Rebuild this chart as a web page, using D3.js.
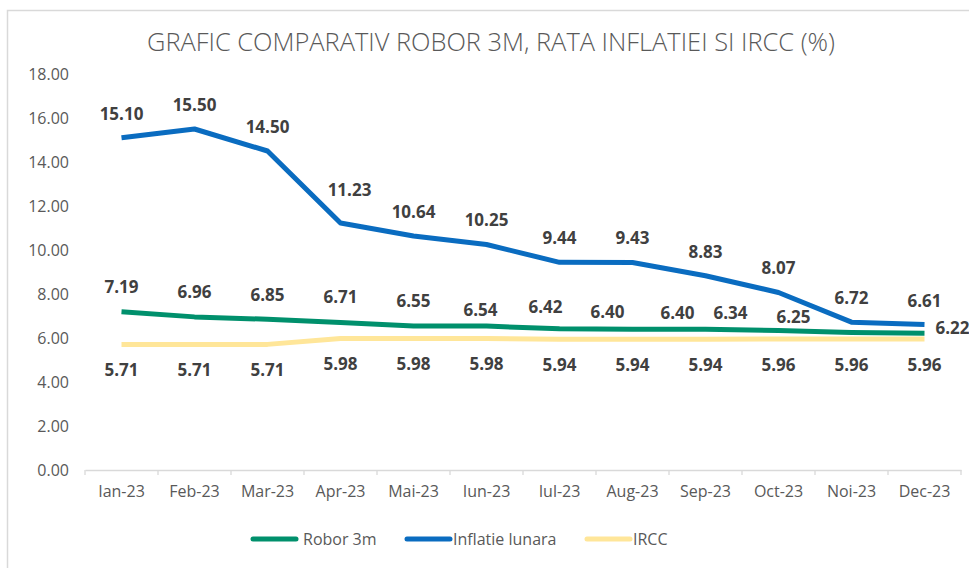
<!DOCTYPE html>
<html>
<head>
<meta charset="utf-8">
<script src="https://cdn.jsdelivr.net/npm/d3@7"></script>
<style>
    body { margin: 0; background: #fff; }
    svg { display: block; }
</style>
</head>
<body>
<div id="chart"></div>
<script>
const months = ["Ian-23", "Feb-23", "Mar-23", "Apr-23", "Mai-23", "Iun-23",
    "Iul-23", "Aug-23", "Sep-23", "Oct-23", "Noi-23", "Dec-23"];
const robor = [7.19, 6.96, 6.85, 6.71, 6.55, 6.54, 6.42, 6.40, 6.40, 6.34, 6.25, 6.22];
const inflatie = [15.10, 15.50, 14.50, 11.23, 10.64, 10.25, 9.44, 9.43, 8.83, 8.07, 6.72, 6.61];
const ircc = [5.71, 5.71, 5.71, 5.98, 5.98, 5.98, 5.94, 5.94, 5.94, 5.96, 5.96, 5.96];
const yTicks = [0, 2, 4, 6, 8, 10, 12, 14, 16, 18];

var DVizModule = (() => {

    const svgSize = { width: 969, height: 568 };
    const margin = { top: 74, right: 8, bottom: 98, left: 85 };

    // excel labels were nudged by hand on a few points, keep that here
    const roborNudge = [[0, -25], [0, -25], [0, -24], [0, -25], [0, -25], [-6, -16],
        [-14, -22], [-25, -17], [-28, -16], [-48, -17], [-58, -15], [0, 0]];
    const inflNudge = months.map((m, i) => i === 3 ? [9, -33] : [0, -24]);

    const series = [
        { name: "Robor 3m", values: robor, color: "#00906c" },
        { name: "Inflatie lunara", values: inflatie, color: "#0a6cc0" },
        { name: "IRCC", values: ircc, color: "#ffe699" }
    ];

    const chart = d3.select("#chart")
        .append("svg")
        .attr("width", svgSize.width)
        .attr("height", svgSize.height)
        .style("font-family", "'Open Sans', sans-serif");

    chart.append("rect")
        .attr("x", 7.5)
        .attr("y", 10.5)
        .attr("width", 980)
        .attr("height", 600)
        .attr("fill", "none")
        .attr("stroke", "#d9d9d9")
        .attr("stroke-width", 1.5);

    const xScale = d3.scaleBand()
        .domain(months)
        .range([margin.left, svgSize.width - margin.right])
        .padding(0);

    const yScale = d3.scaleLinear()
        .domain([0, 18])
        .range([svgSize.height - margin.bottom, margin.top]);

    const cx = m => xScale(m) + xScale.bandwidth() / 2;

    chart.append("text")
        .attr("x", 491)
        .attr("y", 42)
        .attr("dy", "0.35em")
        .attr("text-anchor", "middle")
        .attr("fill", "#595959")
        .attr("font-size", "25px")
        .attr("font-weight", 300)
        .attr("textLength", 688)
        .attr("lengthAdjust", "spacingAndGlyphs")
        .text("GRAFIC COMPARATIV ROBOR 3M, RATA INFLATIEI SI IRCC (%)");

    // y axis, labels only
    chart.append("g")
        .attr("transform", `translate(${margin.left}, 0)`)
        .call(d3.axisLeft(yScale).tickValues(yTicks).tickFormat(d3.format(".2f")).tickSize(0).tickPadding(16))
        .call(g => g.select(".domain").remove())
        .call(g => g.selectAll("text")
            .attr("fill", "#595959")
            .attr("font-size", "16px")
            .attr("font-family", "'Open Sans', sans-serif"));

    // x axis: line with ticks on band edges
    const xAxisG = chart.append("g")
        .attr("transform", `translate(0, ${yScale(0)})`);

    xAxisG.call(d3.axisBottom(xScale).tickSize(0).tickPadding(16))
        .call(g => g.select(".domain").attr("stroke", "#d9d9d9").attr("stroke-width", 1.3))
        .call(g => g.selectAll("text")
            .attr("fill", "#595959")
            .attr("font-size", "16px")
            .attr("font-family", "'Open Sans', sans-serif"));

    xAxisG.append("g")
        .selectAll("line")
        .data(months.concat(["end"]))
        .join("line")
        .attr("x1", d => d === "end" ? xScale.range()[1] : xScale(d))
        .attr("x2", d => d === "end" ? xScale.range()[1] : xScale(d))
        .attr("y1", 0)
        .attr("y2", 5)
        .attr("stroke", "#d9d9d9")
        .attr("stroke-width", 1.3);

    const line = d3.line()
        .x((d, i) => cx(months[i]))
        .y(d => yScale(d));

    // draw ircc first, then robor, then inflation on top
    [series[2], series[0], series[1]].forEach(s => {
        chart.append("path")
            .datum(s.values)
            .attr("fill", "none")
            .attr("stroke", s.color)
            .attr("stroke-width", 5)
            .attr("stroke-linejoin", "round")
            .attr("d", line);
    });

    const fmt = d3.format(".2f");

    function labels(values, nudge, anchor) {
        chart.append("g")
            .attr("fill", "#404040")
            .attr("font-size", "17px")
            .attr("font-weight", "bold")
            .selectAll("text")
            .data(values)
            .join("text")
            .attr("x", (d, i) => cx(months[i]) + nudge(i)[0])
            .attr("y", (d, i) => yScale(d) + nudge(i)[1])
            .attr("dy", "0.35em")
            .attr("text-anchor", anchor)
            .text(d => fmt(d));
    }

    labels(inflatie, i => inflNudge[i], "middle");
    labels(ircc, i => [0, 26], "middle");
    chart.append("g").call(() => {
        // robor: last label sits to the right of the point
        const last = robor.length - 1;
        labels(robor.slice(0, last), i => roborNudge[i], "middle");
        chart.append("text")
            .attr("x", cx(months[last]) + 11)
            .attr("y", yScale(robor[last]) - 5)
            .attr("dy", "0.35em")
            .attr("fill", "#404040")
            .attr("font-size", "17px")
            .attr("font-weight", "bold")
            .text(fmt(robor[last]));
    });

    // legend
    const legendX = [253, 407, 587];
    const legend = chart.append("g")
        .selectAll("g")
        .data(series)
        .join("g")
        .attr("transform", (d, i) => `translate(${legendX[i]}, 539)`);

    legend.append("line")
        .attr("x1", 0)
        .attr("x2", 43)
        .attr("stroke", d => d.color)
        .attr("stroke-width", 5)
        .attr("stroke-linecap", "round");

    legend.append("text")
        .attr("x", (d, i) => i === 0 ? 50 : 46)
        .attr("dy", "0.35em")
        .attr("fill", "#595959")
        .attr("font-size", "16px")
        .text(d => d.name);

})();
</script>
</body>
</html>
